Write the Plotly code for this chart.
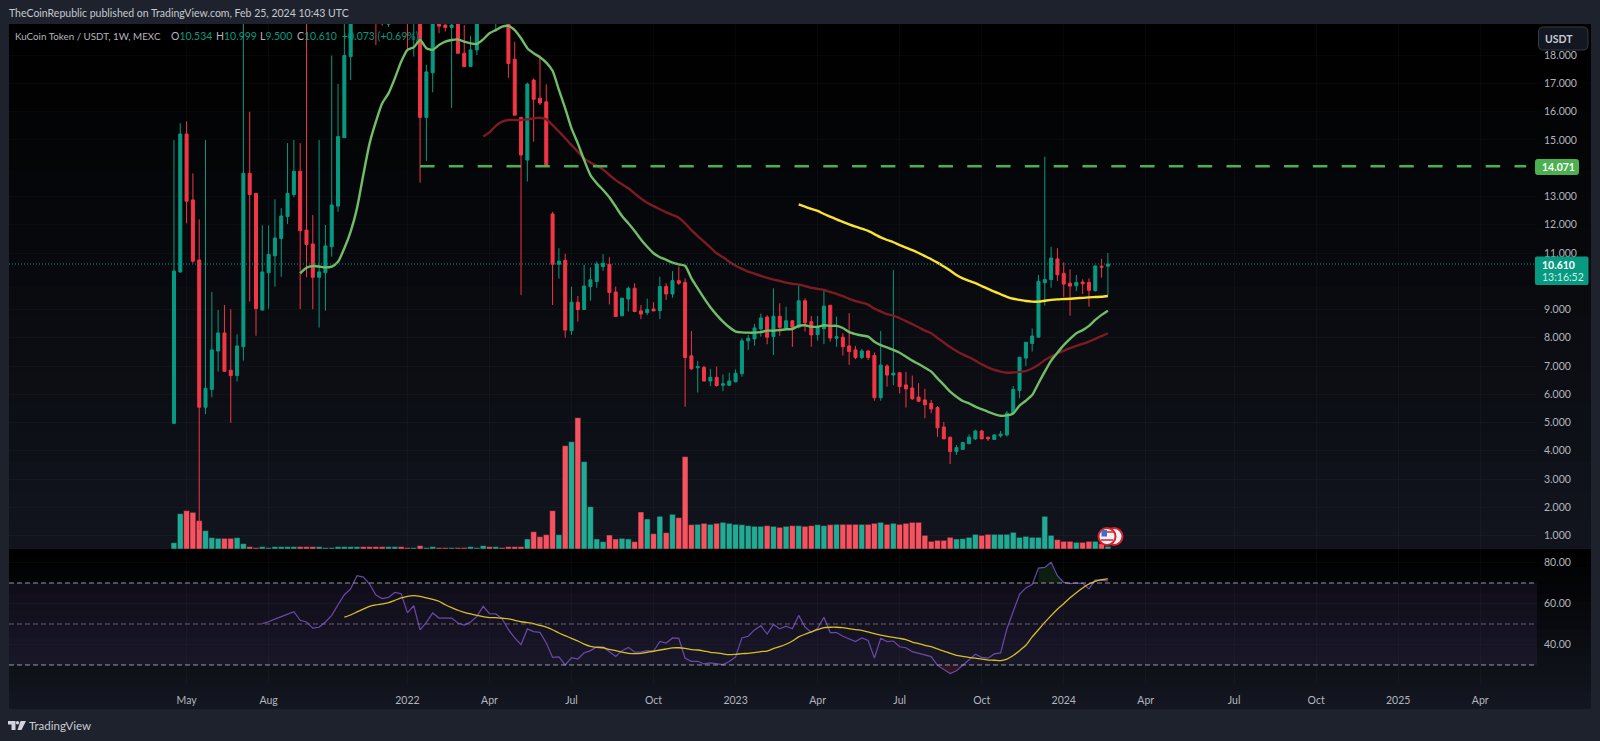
import pandas as pd
import plotly.graph_objects as go

W, H = 1600, 741
dates = pd.date_range("2021-04-19", periods=149, freq="7D")

opens = [4.97,10.33,15.21,12.88,10.75,5.54,6.17,7.53,8.17,6.85,
 6.66,7.68,13.82,13.11,8.98,10.30,10.90,11.51,12.29,13.07,
 13.89,11.81,11.32,10.14,10.30,11.22,12.66,15.08,17.95,19.8,
 20.5,20.0,19.6,19.4,19.1,19.6,20.4,19.8,19.4,20.2,
 15.8,17.38,19.4,19.07,18.98,19.9,18.07,17.60,18.19,19.3,
 20.3,19.8,20.6,20.8,17.86,15.8,14.29,17.12,16.48,16.35,
 12.38,10.60,10.74,8.25,9.26,9.0,9.81,9.99,10.52,10.60,
 9.62,8.78,9.37,9.75,8.95,8.89,9.02,8.96,9.81,9.55,
 10.02,9.96,7.36,6.94,6.95,6.47,6.60,6.32,6.32,6.44,
 6.73,7.89,7.96,8.31,8.73,8.04,8.76,8.345,8.60,8.37,
 9.31,8.57,8.11,8.32,9.15,7.98,8.02,7.71,7.57,7.30,
 7.53,7.37,5.88,7.0,6.68,6.76,6.33,6.22,5.90,5.80,
 5.68,5.53,4.84,4.48,3.97,4.05,4.25,4.42,4.70,4.48,
 4.40,4.53,4.56,5.33,6.13,7.28,7.80,8.02,9.95,10.06,
 10.79,10.28,9.93,9.84,9.97,9.96,9.67,10.53,10.534]
highs = [15.0,15.59,15.66,13.82,12.19,15.0,9.62,8.98,9.16,9.01,
 8.12,19.6,16.0,13.11,11.98,11.98,12.90,12.59,14.89,15.0,
 14.89,19.6,12.34,15.0,11.99,17.99,16.98,19.5,21.0,22.0,
 22.0,21.0,20.5,20.0,20.5,21.0,21.0,20.5,21.0,21.0,
 17.66,21.0,19.9,19.1,19.2,20.3,19.07,18.69,20.0,20.5,
 21.0,21.0,21.5,21.0,18.48,15.8,17.03,17.18,17.99,16.97,
 12.46,11.17,10.97,9.81,9.48,10.58,10.49,10.70,10.96,10.85,
 9.81,9.42,9.81,9.93,9.16,9.38,9.26,10.16,9.93,10.36,
 10.52,10.10,8.24,7.18,7.01,6.90,6.98,6.70,6.76,6.88,
 7.98,8.1,8.49,8.86,8.80,9.75,9.22,9.10,8.63,9.90,
 9.40,8.77,8.77,9.71,9.15,8.75,8.16,8.87,7.71,7.60,
 7.57,7.48,8.24,7.06,10.40,6.79,6.79,6.66,6.39,6.19,
 5.80,5.58,5.02,4.50,4.20,4.32,4.58,4.74,4.74,4.50,
 4.58,4.70,5.41,6.29,7.31,7.85,8.33,10.22,14.41,11.22,
 11.17,10.67,10.42,10.22,10.07,10.10,10.56,10.79,10.999]
lows = [4.97,10.30,12.05,10.63,1.2,5.30,5.89,6.80,6.80,4.99,
 6.45,7.19,9.28,8.07,8.96,9.03,9.81,10.16,12.03,12.97,
 9.01,10.14,9.01,8.36,8.96,10.87,12.46,15.08,17.12,19.4,
 19.5,19.3,18.36,19.05,19.0,19.4,19.5,18.21,17.95,13.49,
 14.26,16.69,18.78,18.84,16.14,18.07,17.60,17.60,18.01,19.1,
 19.5,18.84,19.6,17.2,15.88,9.51,13.53,14.94,16.24,14.06,
 9.16,10.09,8.0,8.10,8.57,8.98,9.31,9.77,10.37,9.18,
 8.75,8.76,8.93,8.90,8.66,8.80,8.95,8.66,9.34,9.42,
 9.87,5.56,6.86,6.06,6.45,6.29,6.27,6.11,6.30,6.42,
 6.62,7.57,7.72,8.04,7.77,7.39,8.07,8.33,7.68,8.33,
 8.22,7.68,7.90,7.77,7.86,7.68,7.37,7.04,7.24,7.24,
 7.21,5.77,5.77,6.27,6.32,6.03,5.53,5.80,5.73,5.15,
 5.33,4.49,4.42,3.53,3.85,4.05,4.23,4.38,4.42,4.35,
 4.38,4.46,4.50,5.30,5.86,7.0,7.51,8.02,9.14,9.77,
 10.01,9.45,8.78,9.65,9.55,9.10,9.63,10.13,9.500]
closes = [10.36,15.21,12.83,10.71,5.54,6.21,7.57,8.17,6.81,6.66,
 7.71,13.82,13.07,9.03,10.33,10.95,11.53,12.31,13.11,13.89,
 11.79,11.30,10.14,10.33,11.25,12.70,15.12,17.99,19.8,20.5,
 20.0,19.6,19.3,19.12,19.6,20.4,19.8,19.4,20.2,15.8,
 17.41,19.8,19.03,18.98,19.07,18.07,17.60,18.19,19.4,20.0,
 20.0,20.3,20.3,17.71,15.88,14.47,16.98,16.44,16.31,14.08,
 10.60,10.71,8.27,9.26,9.0,9.83,10.05,10.61,10.64,9.60,
 8.75,9.40,9.75,8.93,8.84,9.0,8.95,9.81,9.55,10.02,
 9.93,7.30,6.90,6.98,6.47,6.60,6.31,6.37,6.47,6.74,
 7.89,7.98,8.345,8.70,8.02,8.76,8.37,8.60,8.37,9.31,
 8.53,8.10,8.36,9.12,7.99,8.04,7.68,7.51,7.30,7.53,
 7.30,5.88,7.03,6.68,6.75,6.27,6.19,5.84,5.75,5.63,
 5.48,4.81,4.42,3.97,4.11,4.29,4.48,4.70,4.42,4.42,
 4.56,4.59,5.33,6.17,7.31,7.84,8.06,10.0,10.06,10.82,
 10.23,9.90,9.83,9.96,9.91,9.68,10.54,10.50,10.610]

volume = [19,106,115,110,85,55,34,32,32,32,
 34,16,7,4,7,4,7,7,7,7,
 7,7,7,7,4,4,7,7,7,7,
 7,7,7,7,7,7,7,4,4,10,
 4,7,4,4,4,4,4,7,4,10,
 7,7,4,7,7,7,30,52,37,43,
 115,43,310,322,394,262,127,30,22,42,
 30,32,30,22,111,90,46,98,49,104,
 94,277,73,74,77,74,77,80,77,74,
 73,70,68,68,70,68,65,68,70,70,
 68,70,73,70,73,74,74,74,74,74,
 74,77,80,74,77,74,77,80,80,41,
 23,26,26,35,30,31,35,44,41,44,
 44,44,44,50,35,38,35,35,98,41,
 28,23,23,20,20,23,23,16,8]

ma_green = [10.28,10.48,10.54,10.52,10.49,10.52,10.69,11.17,11.76,12.58,
 13.76,14.88,15.65,16.30,16.65,17.18,17.77,18.19,18.28,18.54,
 18.25,18.19,18.36,18.48,18.54,18.56,18.48,18.42,18.40,18.56,
 18.78,18.89,19.01,19.04,18.89,18.60,18.25,18.07,17.93,17.74,
 17.45,16.77,16.12,15.41,14.88,14.29,13.76,13.47,13.23,12.97,
 12.64,12.31,12.05,11.78,11.48,11.22,10.99,10.85,10.76,10.66,
 10.60,10.55,10.10,9.75,9.40,9.08,8.81,8.57,8.37,8.22,
 8.19,8.18,8.18,8.20,8.25,8.25,8.27,8.30,8.31,8.42,
 8.44,8.39,8.39,8.44,8.42,8.42,8.345,8.20,8.13,8.08,
 8.04,7.86,7.74,7.66,7.57,7.47,7.33,7.19,7.07,6.94,
 6.80,6.56,6.33,6.09,5.91,5.76,5.68,5.56,5.47,5.38,
 5.30,5.24,5.25,5.32,5.60,5.77,5.97,6.39,6.80,7.19,
 7.47,7.74,7.96,8.16,8.27,8.42,8.63,8.81,8.96]
ma_red = [15.12,15.27,15.50,15.65,15.71,15.71,15.71,15.73,15.77,15.79,
 15.73,15.53,15.30,15.06,14.82,14.59,14.35,14.20,14.09,13.96,
 13.76,13.58,13.43,13.29,13.11,12.93,12.78,12.66,12.55,12.44,
 12.35,12.25,12.05,11.81,11.60,11.40,11.20,10.99,10.85,10.69,
 10.55,10.44,10.34,10.27,10.19,10.12,10.06,10.01,9.95,9.91,
 9.88,9.83,9.77,9.73,9.69,9.62,9.55,9.47,9.38,9.30,
 9.24,9.17,9.03,8.93,8.84,8.78,8.69,8.59,8.48,8.37,
 8.25,8.16,7.99,7.83,7.67,7.53,7.41,7.31,7.19,7.06,
 6.95,6.86,6.80,6.76,6.77,6.79,6.82,6.91,7.04,7.21,
 7.33,7.45,7.54,7.63,7.71,7.78,7.86,7.96,8.06,8.16]
ma_yellow = [12.72,12.64,12.56,12.49,12.38,12.29,12.19,12.10,12.01,11.93,
 11.86,11.78,11.67,11.55,11.46,11.38,11.28,11.19,11.10,11.0,
 10.89,10.78,10.66,10.52,10.38,10.22,10.10,10.01,9.93,9.83,
 9.73,9.63,9.54,9.45,9.38,9.34,9.30,9.28,9.28,9.31,
 9.34,9.36,9.37,9.38,9.40,9.41,9.43,9.44,9.45,9.48]

rsi = [50.2,51.1,52.4,53.7,55.0,56.0,51.8,51.0,48.0,48.4,
 51.0,54.2,59.4,64.3,67.1,73.6,72.9,69.5,64.1,62.4,
 63.0,65.4,64.8,55.4,58.9,47.1,50.8,55.4,52.9,52.9,
 52.9,50.5,49.5,51.0,53.7,58.6,55.0,54.9,52.6,47.2,
 43.2,39.9,47.6,46.3,45.9,40.7,33.7,33.9,30.0,33.6,
 32.9,35.9,37.0,38.8,38.8,36.5,34.2,37.0,38.6,36.3,
 36.3,37.0,36.7,41.5,40.7,43.2,43.0,33.3,31.8,31.8,
 30.5,31.0,30.5,30.2,31.7,33.9,43.2,44.0,47.1,49.2,
 45.1,49.8,47.6,48.9,47.7,54.2,48.5,45.9,47.9,53.3,
 45.8,45.8,44.0,42.7,41.4,43.2,42.0,33.4,43.0,41.4,
 41.7,38.9,38.4,36.5,35.7,34.9,34.1,29.8,28.0,25.8,
 27.2,29.8,32.6,35.2,33.7,33.3,35.4,35.9,47.7,56.2,
 64.5,67.6,69.2,77.3,77.6,80.1,73.6,70.3,69.7,70.0,
 69.8,67.1,71.5,71.3,71.0]
rsi_ma = [53.3,54.4,55.9,57.3,58.6,59.3,59.8,60.4,61.5,62.7,
 63.5,63.8,63.5,62.8,62.0,61.1,59.4,58.0,56.7,55.7,
 54.9,54.2,53.6,53.1,53.1,52.8,52.5,51.8,51.1,50.7,
 50.2,49.3,48.5,47.2,45.6,44.3,43.0,41.7,40.2,39.1,
 38.6,38.4,37.6,37.0,36.3,35.7,35.5,35.7,36.2,36.7,
 37.3,37.8,38.3,38.4,38.1,37.5,37.3,36.8,36.2,35.9,
 35.4,35.0,35.2,35.5,35.7,36.0,36.5,36.8,38.0,38.9,
 40.1,41.7,43.7,45.0,46.1,47.2,48.2,48.4,48.4,48.2,
 47.7,47.2,46.9,46.1,45.3,44.6,44.0,43.5,43.0,42.4,
 41.2,40.4,39.6,38.9,37.8,36.8,35.7,34.7,34.2,33.7,
 33.3,32.8,32.4,32.3,32.1,32.9,34.6,37.0,39.6,43.7,
 47.2,50.8,54.1,57.2,59.9,62.8,65.3,67.6,69.5,70.8,
 71.6,72.0]

level = 14.071
last_price = 10.610
price_ticks = [1, 2, 3, 4, 5, 6, 7, 8, 9, 11, 12, 13, 15, 16, 17, 18]
rsi_ticks = [40, 60, 80]
time_tick_dates = ["2021-05-03","2021-08-02","2022-01-03","2022-04-04","2022-07-04","2022-10-03",
                   "2023-01-02","2023-04-03","2023-07-03","2023-10-02","2024-01-01","2024-04-01",
                   "2024-07-08","2024-10-07","2025-01-06","2025-04-07"]
time_tick_labels = ["May","Aug","2022","Apr","Jul","Oct","2023","Apr","Jul","Oct","2024","Apr","Jul","Oct","2025","Apr"]

TEAL, RED = "#089981", "#f23645"
FONT = "Lato"
TXT = "#b2b5be"
FS = 10.5

def px(x): return x / W
def py(y): return 1 - y / H

shapes, ann = [], []

def band(y0, y1, top, bot, n=18):
    for k in range(n):
        t = k / (n - 1)
        c = "rgb(%d,%d,%d)" % tuple(round(a + (b - a) * t) for a, b in zip(top, bot))
        ya = y0 + (y1 - y0) * k / n
        yb = y0 + (y1 - y0) * (k + 1) / n + 0.5
        shapes.append(dict(type="rect", xref="paper", yref="paper", x0=px(9), x1=px(1591),
                           y0=py(ya), y1=py(min(yb, y1)), fillcolor=c, line_width=0, layer="below"))

band(24, 549, (0, 0, 0), (17, 20, 29))
band(549, 709, (0, 0, 0), (19, 22, 32))

# RSI band and guide lines
shapes.append(dict(type="rect", xref="paper", yref="y3", x0=px(9), x1=px(1537), y0=30, y1=70,
                   fillcolor="rgba(126,87,194,0.10)", line_width=0, layer="below"))
for v, c in [(70, "rgba(200,195,215,0.75)"), (50, "rgba(140,140,155,0.65)"), (30, "rgba(200,195,215,0.75)")]:
    shapes.append(dict(type="line", xref="paper", yref="y3", x0=px(9), x1=px(1537), y0=v, y1=v,
                       line=dict(color=c, width=1, dash="5px,3px"), layer="above"))

# price tags
def rrect(x0, y0, x1, y1, r, fill, line=None):
    path = (f"M{px(x0+r)},{py(y0)} L{px(x1-r)},{py(y0)} Q{px(x1)},{py(y0)} {px(x1)},{py(y0+r)} "
            f"L{px(x1)},{py(y1-r)} Q{px(x1)},{py(y1)} {px(x1-r)},{py(y1)} L{px(x0+r)},{py(y1)} "
            f"Q{px(x0)},{py(y1)} {px(x0)},{py(y1-r)} L{px(x0)},{py(y0+r)} Q{px(x0)},{py(y0)} {px(x0+r)},{py(y0)} Z")
    shapes.append(dict(type="path", xref="paper", yref="paper", path=path, fillcolor=fill,
                       line=dict(color=line or fill, width=1), layer="above"))

rrect(1535.5, 159.5, 1578.5, 174.5, 2, "#4caf50")
rrect(1535.5, 257, 1588, 284.5, 1, "#089981")
rrect(1538.5, 27, 1588, 50, 5, "#131722", "#363a45")

def label(x, y, text, size=FS, color=TXT, anchor="left"):
    ann.append(dict(xref="paper", yref="paper", x=px(x), y=py(y), text=text, showarrow=False,
                    xanchor=anchor, yanchor="middle", align="left", borderpad=0, borderwidth=0,
                    font=dict(family=FONT, size=size, color=color)))

label(1558, 167, "<b>14.071</b>", FS, "#ffffff", "center")
label(1558, 264.5, "<b>10.610</b>", FS, "#ffffff", "center")
label(1563, 276.5, "13:16:52", FS, "#c9efe6", "center")
label(1559, 39, "<b>USDT</b>", FS, "#c8cbd4", "center")
label(9, 13, "TheCoinRepublic published on TradingView.com, Feb 25, 2024 10:43 UTC", FS, "#c5c8d0")
label(15, 36, "KuCoin Token / USDT, 1W, MEXC", 9.8, "#b2b5be")
v = lambda s: f"<span style='color:{TEAL}'>{s}</span>"
for xpos, head, val in [(171, "O", "10.534"), (216, "H", "10.999"), (260, "L", "9.500"), (297, "C", "10.610")]:
    label(xpos, 36, head + v(val), FS, "#b2b5be")
label(342, 36, "+0.073 (+0.69%)", FS, TEAL)
label(29, 725.5, "TradingView", 11.5, "#c8cbd4")

# TradingView mark
def poly(points, fill):
    d = "M" + " L".join(f"{px(a)},{py(b)}" for a, b in points) + " Z"
    shapes.append(dict(type="path", xref="paper", yref="paper", path=d, fillcolor=fill, line_width=0, layer="above"))
poly([(8, 721), (15.5, 721), (15.5, 730), (11.5, 730), (11.5, 724.5), (8, 724.5)], "#d1d4dc")
poly([(20.5, 721), (26, 721), (21.5, 730), (17.5, 730)], "#d1d4dc")
shapes.append(dict(type="circle", xref="paper", yref="paper", x0=px(15.8), x1=px(19.2), y0=py(721), y1=py(724.4),
                   fillcolor="#d1d4dc", line_width=0, layer="above"))

# event flags
for cx in (1114, 1107):
    shapes.append(dict(type="circle", xref="paper", yref="paper", x0=px(cx-8.5), x1=px(cx+8.5),
                       y0=py(528), y1=py(545), fillcolor="#f2f2f6",
                       line=dict(color="#d5202e", width=2), layer="above"))
shapes.append(dict(type="rect", xref="paper", yref="paper", x0=px(1101.5), x1=px(1107), y0=py(530),
                   y1=py(536.5), fillcolor="#3d6fc4", line_width=0, layer="above"))
shapes.append(dict(type="rect", xref="paper", yref="paper", x0=px(1107), x1=px(1113), y0=py(531),
                   y1=py(533), fillcolor="#e8505b", line_width=0, layer="above"))
shapes.append(dict(type="rect", xref="paper", yref="paper", x0=px(1101), x1=px(1113), y0=py(539),
                   y1=py(541), fillcolor="#e8505b", line_width=0, layer="above"))

fig = go.Figure()

fig.add_trace(go.Bar(x=dates, y=volume, xaxis="x", yaxis="y",
                     marker=dict(color=["#22ab94" if c >= o else "#f7525f" for o, c in zip(opens, closes)],
                                 line=dict(color="#14161e", width=0.5)), showlegend=False))

fig.add_trace(go.Candlestick(x=dates, open=opens, high=highs, low=lows, close=closes, xaxis="x", yaxis="y2",
                             increasing=dict(line=dict(color=TEAL, width=1), fillcolor=TEAL),
                             decreasing=dict(line=dict(color=RED, width=1), fillcolor=RED),
                             whiskerwidth=0, showlegend=False))

def ma(values, color, w):
    fig.add_trace(go.Scatter(x=dates[-len(values):], y=values, mode="lines", xaxis="x", yaxis="y2",
                             line=dict(color=color, width=w, shape="spline", smoothing=0.6), showlegend=False))

ma(ma_red, "#7d1a22", 2.4)
ma(ma_green, "#71bd68", 2.4)
ma(ma_yellow, "#fbe32f", 2.4)

fig.add_trace(go.Scatter(x=[dates[39], pd.Timestamp("2025-05-28")], y=[level, level], mode="lines", xaxis="x", yaxis="y2",
                         line=dict(color="#4caf50", width=2.5, dash="14.5px,14.3px"), showlegend=False))
fig.add_trace(go.Scatter(x=[pd.Timestamp("2020-10-18"), pd.Timestamp("2025-06-09")], y=[last_price, last_price],
                         mode="lines", xaxis="x", yaxis="y2",
                         line=dict(color=TEAL, width=1, dash="1px,2px"), showlegend=False))

# RSI pane
rsi_dates = dates[-len(rsi):]
def zone(idx, limit, color):
    xs = [rsi_dates[idx[0]]] + [rsi_dates[k] for k in idx] + [rsi_dates[idx[-1]]]
    ys = [limit] + [rsi[k] for k in idx] + [limit]
    fig.add_trace(go.Scatter(x=xs, y=ys, mode="lines", fill="toself", fillcolor=color, line_width=0,
                             xaxis="x", yaxis="y3", showlegend=False))
over = [k for k, r in enumerate(rsi) if r >= 70 and pd.Timestamp("2023-11-01") < rsi_dates[k] < pd.Timestamp("2024-01-20")]
under = [k for k, r in enumerate(rsi) if r <= 30 and pd.Timestamp("2023-07-01") < rsi_dates[k] < pd.Timestamp("2023-10-01")]
zone(over, 70, "rgba(76,175,80,0.16)")
zone(under, 30, "rgba(242,54,69,0.14)")
fig.add_trace(go.Scatter(x=rsi_dates, y=rsi, mode="lines", xaxis="x", yaxis="y3",
                         line=dict(color="#6a4aa8", width=1.2), showlegend=False))
fig.add_trace(go.Scatter(x=dates[-len(rsi_ma):], y=rsi_ma, mode="lines", xaxis="x", yaxis="y3",
                         line=dict(color="#d6c026", width=1.3, shape="spline", smoothing=0.6), showlegend=False))

grid = "rgba(255,255,255,0.028)"
tick_font = dict(family=FONT, size=FS, color=TXT)
fig.update_layout(
    width=W, height=H, autosize=False, margin=dict(l=0, r=0, t=0, b=0),
    paper_bgcolor="#1e222d", plot_bgcolor="rgba(0,0,0,0)",
    font=dict(family=FONT, size=FS, color=TXT),
    showlegend=False, bargap=0.08, boxgap=0.32, hovermode=False,
    xaxis=dict(domain=[px(9), px(1537)], anchor="y3", type="date",
               range=["2020-10-18", "2025-06-09"], tickmode="array",
               tickvals=time_tick_dates, ticktext=time_tick_labels, tickangle=0,
               showgrid=True, gridcolor=grid, gridwidth=1, zeroline=False, showline=False,
               ticks="", ticklabelstandoff=9, tickfont=tick_font,
               rangeslider=dict(visible=False), automargin=False),
    yaxis=dict(domain=[py(549), py(24)], range=[0, 1575], visible=False, fixedrange=True),
    yaxis2=dict(domain=[py(549), py(24)], overlaying="y", side="right", anchor="x",
                range=[0.522, 19.106], tickmode="array", tickvals=price_ticks,
                ticktext=[f"{t:.3f}" for t in price_ticks], showgrid=True, gridcolor=grid,
                zeroline=False, showline=False, ticks="", ticklabelstandoff=6,
                tickfont=tick_font, automargin=False),
    yaxis3=dict(domain=[py(683), py(549)], side="right", anchor="x", range=[21.2, 86.6],
                tickmode="array", tickvals=rsi_ticks, ticktext=[f"{t:.2f}" for t in rsi_ticks],
                showgrid=True, gridcolor=grid, zeroline=False, showline=False, ticks="",
                ticklabelstandoff=6, tickfont=tick_font, automargin=False),
    shapes=shapes, annotations=ann,
)

fig.write_html("out.html", config={"displayModeBar": False},
               post_script="document.documentElement.style.margin='0';document.body.style.margin='0';document.body.style.background='#1e222d';document.documentElement.style.overflow='hidden';")
